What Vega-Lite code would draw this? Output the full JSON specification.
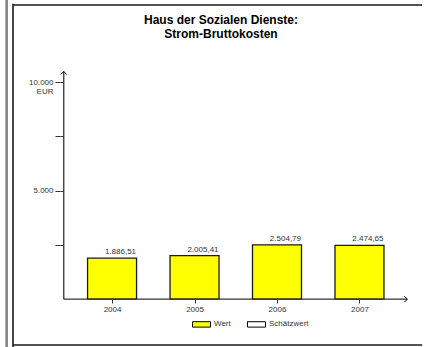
{
  "$schema": "https://vega.github.io/schema/vega-lite/v6.json",
  "width": 416,
  "height": 340,
  "autosize": {"type": "none"},
  "padding": {"left": 8, "top": 5, "right": 0, "bottom": 2},
  "background": "#ffffff",
  "config": {
    "locale": {"number": {"decimal": ",", "thousands": ".", "grouping": [3], "currency": ["", " €"]}},
    "font": "Liberation Sans",
    "view": {"stroke": null},
    "axis": {"grid": false, "domain": false, "labelFont": "Liberation Sans", "labelFontSize": 8, "labelColor": "#333333", "tickColor": "#333333", "title": null}
  },
  "title": {
    "text": ["Haus der Sozialen Dienste:", "Strom-Bruttokosten"],
    "fontSize": 12,
    "fontWeight": "bold",
    "font": "Liberation Sans",
    "color": "#000000",
    "anchor": "middle",
    "frame": "group",
    "baseline": "top",
    "offset": -42,
    "lineHeight": 13.5,
    "dx": 5
  },
  "datasets": {
    "kosten": [
      {"jahr": 2004, "wert": 1886.51, "typ": "Wert"},
      {"jahr": 2005, "wert": 2005.41, "typ": "Wert"},
      {"jahr": 2006, "wert": 2504.79, "typ": "Wert"},
      {"jahr": 2007, "wert": 2474.65, "typ": "Wert"}
    ],
    "achsen": [
      {"x": 2003.4142, "y": 0, "x2": 2003.4142, "y2": 10484},
      {"x": 2003.4142, "y": 0, "x2": 2007.58, "y2": 0}
    ],
    "rahmen": [
      {"x": 2002.7988, "y": 13548, "x2": 2007.76, "y2": 13548},
      {"x": 2002.7988, "y": -2111, "x2": 2007.76, "y2": -2111},
      {"x": 2002.7988, "y": 13600, "x2": 2002.7988, "y2": -2203}
    ],
    "rand": [
      {"x": 2002.7219, "y": 13778, "x2": 2002.7219, "y2": -2203}
    ],
    "pfeile": [
      {"x": 2003.4142, "y": 10484, "richtung": "oben"},
      {"x": 2007.58, "y": 0, "richtung": "rechts"}
    ]
  },
  "layer": [
    {
      "data": {"name": "kosten"},
      "mark": {"type": "bar", "size": 49, "stroke": "#1a1a1a", "strokeWidth": 1.3},
      "encoding": {
        "x": {
          "field": "jahr", "type": "quantitative",
          "scale": {"domain": [2002.7988, 2007.7219], "nice": false, "zero": false},
          "axis": {"values": [2004, 2005, 2006, 2007], "format": "d", "orient": "bottom", "offset": -46, "tickSize": 4, "labelPadding": 2}
        },
        "y": {
          "field": "wert", "type": "quantitative",
          "scale": {"domain": [-2111, 13548], "nice": false, "zero": false},
          "axis": {
            "orient": "left", "offset": -52, "values": [2500, 5000, 7500, 10000], "tickSize": 5, "labelPadding": 2,
            "labelBaseline": "top", "labelOffset": -4, "labelLineHeight": 9.5,
            "labelExpr": "datum.value == 10000 ? ['10.000', 'EUR'] : datum.value == 5000 ? '5.000' : ''"
          }
        },
        "y2": {"datum": 0},
        "fill": {
          "field": "typ", "type": "nominal",
          "scale": {"domain": ["Wert", "Schätzwert"], "range": ["#ffff00", "#ffffff"]},
          "legend": {
            "orient": "none", "legendX": 184, "legendY": 309.5, "direction": "horizontal", "title": null,
            "symbolType": "M-1,-0.3H1V0.3H-1Z", "symbolSize": 324, "symbolStrokeColor": "#000000", "symbolStrokeWidth": 1,
            "labelFontSize": 8, "labelFont": "Liberation Sans", "labelColor": "#333333", "labelOffset": 3, "columnPadding": 14, "padding": 0
          }
        }
      }
    },
    {
      "data": {"name": "kosten"},
      "mark": {"type": "text", "align": "right", "baseline": "bottom", "dx": 24, "dy": -2, "fontSize": 8, "color": "#333333"},
      "encoding": {
        "x": {"field": "jahr", "type": "quantitative", "scale": {"domain": [2002.7988, 2007.7219], "nice": false, "zero": false}},
        "y": {"field": "wert", "type": "quantitative", "scale": {"domain": [-2111, 13548], "nice": false, "zero": false}, "axis": null},
        "text": {"field": "wert", "type": "quantitative", "format": ",.2f"}
      }
    },
    {
      "data": {"name": "achsen"},
      "mark": {"type": "rule", "color": "#333333", "strokeWidth": 1.3},
      "encoding": {
        "x": {"field": "x", "type": "quantitative", "scale": {"domain": [2002.7988, 2007.7219], "nice": false, "zero": false}},
        "y": {
          "field": "y", "type": "quantitative",
          "scale": {"domain": [-2111, 13548], "nice": false, "zero": false},
          "axis": {"orient": "right", "offset": -364, "values": [2500, 5000, 7500, 10000], "tickSize": 3, "labels": false, "domain": false}
        },
        "x2": {"field": "x2"},
        "y2": {"field": "y2"}
      }
    },
    {
      "data": {"name": "rahmen"},
      "mark": {"type": "rule", "color": "#1a1a1a", "strokeWidth": 1.6, "clip": false},
      "encoding": {
        "x": {"field": "x", "type": "quantitative", "scale": {"domain": [2002.7988, 2007.7219], "nice": false, "zero": false}},
        "y": {"field": "y", "type": "quantitative", "scale": {"domain": [-2111, 13548], "nice": false, "zero": false}, "axis": null},
        "x2": {"field": "x2"},
        "y2": {"field": "y2"}
      }
    },
    {
      "data": {"name": "rand"},
      "mark": {"type": "rule", "color": "#808080", "strokeWidth": 2.5, "clip": false},
      "encoding": {
        "x": {"field": "x", "type": "quantitative", "scale": {"domain": [2002.7988, 2007.7219], "nice": false, "zero": false}},
        "y": {"field": "y", "type": "quantitative", "scale": {"domain": [-2111, 13548], "nice": false, "zero": false}, "axis": null},
        "x2": {"field": "x2"},
        "y2": {"field": "y2"}
      }
    },
    {
      "data": {"name": "pfeile"},
      "mark": {"type": "point", "filled": false, "stroke": "#000000", "strokeWidth": 1, "size": 36, "opacity": 1},
      "encoding": {
        "x": {"field": "x", "type": "quantitative", "scale": {"domain": [2002.7988, 2007.7219], "nice": false, "zero": false}},
        "y": {"field": "y", "type": "quantitative", "scale": {"domain": [-2111, 13548], "nice": false, "zero": false}, "axis": null},
        "shape": {
          "field": "richtung", "type": "nominal",
          "scale": {"domain": ["oben", "rechts"], "range": ["M-1,1L0,0L1,1", "M-1,-1L0,0L-1,1"]},
          "legend": null
        }
      }
    }
  ],
  "resolve": {"axis": {"y": "independent"}}
}
